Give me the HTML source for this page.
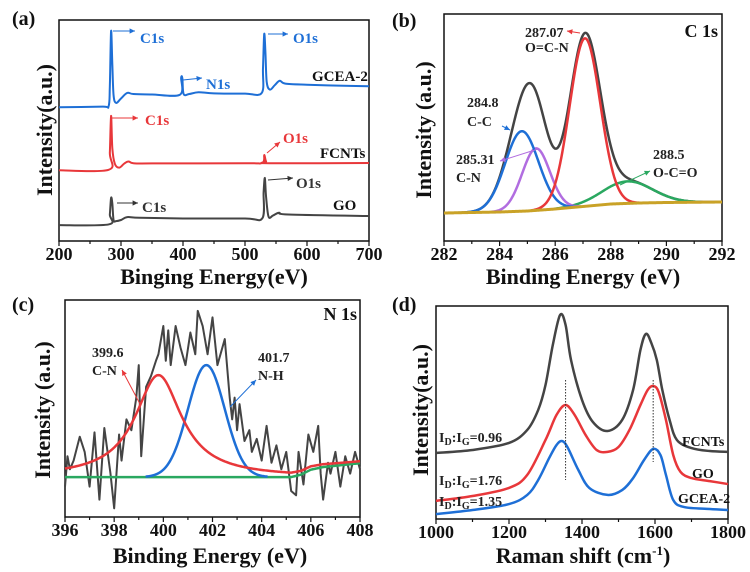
<!DOCTYPE html>
<html><head><meta charset="utf-8"><style>
html,body{margin:0;padding:0;background:#fff}
svg{display:block}
text{font-family:"Liberation Serif",serif;font-weight:bold}
</style></head><body>
<svg id="fig" width="750" height="572" viewBox="0 0 750 572" xmlns="http://www.w3.org/2000/svg"></svg>
<script>
// ---------- Panel (a) survey data ----------
const aGcX=[200,270,280,282,284,286,288,292,300,310,320,350,395,397,399,401,410,425,450,500,527,529,531,533,535,540,548,556,565,600,650,700];
const aGcY=[60.5,60.8,61,70,95,80,66,62.5,64.5,67,66.5,66.3,66.2,73.8,73.5,66.5,66.5,67.3,66.8,66.7,67,78,93.7,85,72,68.5,70.5,72.5,71.2,70.7,70.3,70];
const aFcX=[200,280,282,284,286,290,297,305,312,320,350,500,528,531,534,540,700];
const aFcY=[32,32.2,40,56.6,42,35,33.2,35,36,35.2,35.1,35.2,35.4,38.9,36,35.2,35.3];
const aGoX=[200,280,282,284,286,288,292,300,310,330,400,500,528,530,532,534,538,545,555,570,700];
const aGoY=[7.2,7.5,12,19.5,17,9.5,9,9.5,10.8,10.5,10.2,10.2,10.3,22,28.5,20,11,11.5,12.8,12,11.3];
const aTicks=[200,300,400,500,600,700];
// ---------- Panel (b) C1s fit ----------
const bBgX=[282,284,285,286,287,288,289,290,292];
const bBgY=[28,29,30,32,34.5,37,38,38.5,39];
const bCenters=[284.8,285.31,287.07,288.6];
const bHeights=[80,62,168,22];
const bSigmas=[0.6,0.5,0.55,0.9];
const bTicks=[282,284,286,288,290,292];
// ---------- Panel (c) N1s ----------
const cX=[396.0,396.1,396.2,396.35,396.6,396.8,397.0,397.2,397.4,397.6,397.85,398.0,398.2,398.3,398.5,398.7,398.9,399.0,399.1,399.3,399.5,399.7,399.8,400.0,400.1,400.2,400.3,400.5,400.7,400.9,401.1,401.3,401.4,401.6,401.8,402.0,402.2,402.5,402.7,402.8,402.9,403.0,403.1,403.3,403.5,403.6,403.8,404.0,404.2,404.4,404.6,404.8,405.0,405.2,405.4,405.5,405.7,405.9,406.1,406.3,406.4,406.5,406.7,406.8,407.0,407.2,407.4,407.6,407.8,408.0];
const cY=[14,28,22,26,37,30,14,39,8,41,20,4,38,26,45,40,55,70,28,60,65,72,75,88,72,86,70,88,78,70,85,75,95,88,75,92,70,82,55,45,55,40,52,35,40,30,36,26,42,25,33,22,30,12,10,30,15,38,30,42,20,8,25,20,30,14,28,20,30,22];
const cBgX=[396,405.2,405.6,406,406.5,408];
const cBgY=[18.4,18.4,19.5,21.8,23,24.8];
const cRed=[399.8,47,1.15];
const cBlue=[401.75,51.6,0.75];
const cTicks=[396,398,400,402,404,406,408];
// ---------- Panel (d) Raman ----------
const dFcX=[1000,1100,1200,1250,1280,1300,1320,1340,1355,1370,1400,1430,1470,1510,1540,1560,1575,1590,1605,1620,1640,1660,1700,1750,1800];
const dFcY=[31,32.4,35.7,41.8,51.2,62.9,81.7,95.8,91.1,74.6,55.9,45.5,41.3,46.5,60.6,79.3,86.9,82.6,74.6,60.6,46.5,37.1,33.3,31.9,31.5];
const dGoX=[1000,1100,1200,1250,1300,1330,1355,1380,1410,1440,1470,1500,1530,1560,1580,1595,1610,1630,1650,1670,1700,1750,1800];
const dGoY=[8.5,10.8,14.6,20.7,37.1,48.8,53.5,48.8,39.4,32.4,31.5,33.8,41.8,53.5,60.6,62.4,59.6,46.5,30,22.1,19.2,17.8,16.4];
const dGcX=[1000,1100,1200,1250,1280,1310,1330,1345,1360,1390,1420,1470,1510,1540,1570,1595,1615,1630,1650,1680,1750,1800];
const dGcY=[2.3,4.2,7,11.3,18.3,28.6,34.7,36.6,33.8,23,14.6,11.3,13.6,19.2,27.7,32.9,30,20.7,8.9,5.6,4.7,4.2];
const dTicks=[1000,1200,1400,1600,1800];

const NS="http://www.w3.org/2000/svg";
const svg=document.getElementById('fig');
function mk(tag,attrs,parent){const e=document.createElementNS(NS,tag);for(const k in attrs)e.setAttribute(k,attrs[k]);(parent||svg).appendChild(e);return e;}
function txt(s,x,y,size,fill,anchor,parent,rot){const e=mk('text',{x:x,y:y,'font-size':size,fill:fill||'#111','text-anchor':anchor||'start'},parent);if(rot)e.setAttribute('transform','rotate(-90 '+x+' '+y+')');e.textContent=s;return e;}
function lin(d0,d1,r0,r1){return v=>r0+(v-d0)*(r1-r0)/(d1-d0);}
function smooth(pts){let d='M'+pts[0][0].toFixed(2)+','+pts[0][1].toFixed(2);for(let i=0;i<pts.length-1;i++){const p0=pts[Math.max(0,i-1)],p1=pts[i],p2=pts[i+1],p3=pts[Math.min(pts.length-1,i+2)];const c1=[p1[0]+(p2[0]-p0[0])/6,p1[1]+(p2[1]-p0[1])/6],c2=[p2[0]-(p3[0]-p1[0])/6,p2[1]-(p3[1]-p1[1])/6];d+='C'+c1[0].toFixed(2)+','+c1[1].toFixed(2)+' '+c2[0].toFixed(2)+','+c2[1].toFixed(2)+' '+p2[0].toFixed(2)+','+p2[1].toFixed(2);}return d;}
function polyD(pts){return 'M'+pts.map(p=>p[0].toFixed(2)+','+p[1].toFixed(2)).join('L');}
function interp(xs,ys,x){if(x<=xs[0])return ys[0];for(let i=0;i<xs.length-1;i++){if(x<=xs[i+1]){const t=(x-xs[i])/(xs[i+1]-xs[i]);return ys[i]+t*(ys[i+1]-ys[i]);}}return ys[ys.length-1];}
function axes(g,x0,x1,y0,y1,sx,ticks,minorStep,name){
  const fr=mk('rect',{x:x0,y:y0,width:x1-x0,height:y1-y0,fill:'none',stroke:'#111','stroke-width':1.5},g);
  
  
  const tg=mk('g',{},g);
  
  
  for(let v=ticks[0];v<=ticks[ticks.length-1]+1e-9;v+=minorStep){const x=sx(v);const major=ticks.some(t=>Math.abs(t-v)<1e-6);mk('line',{x1:x,x2:x,y1:y1,y2:y1+(major?5:3),stroke:'#111','stroke-width':1.2},tg);}
  ticks.forEach(t=>{const e=txt(String(t),sx(t),y1+19,18,'#111','middle',tg);});
}
function line(g,d,color,w,name){const p=mk('path',{d:d,fill:'none',stroke:color,'stroke-width':w,'stroke-linejoin':'round'},g);return p;}
function arrow(g,x1,y1,x2,y2,color){mk('line',{x1:x1,y1:y1,x2:x2,y2:y2,stroke:color,'stroke-width':1},g);const a=Math.atan2(y2-y1,x2-x1),L=6;mk('path',{d:`M${x2},${y2}L${x2-L*Math.cos(a-0.45)},${y2-L*Math.sin(a-0.45)}L${x2-L*Math.cos(a+0.45)},${y2-L*Math.sin(a+0.45)}Z`,fill:color},g);}

// ===== Panel a =====
(function(){
const g=mk('g',{});
const sx=lin(200,700,59,369), sy=lin(0,100,241,20);
axes(g,59,369,20,241,sx,aTicks,50,'panel-a');
line(g,smooth(aGoX.map((x,i)=>[sx(x),sy(aGoY[i])])),'#444',2,'go-survey-line');
line(g,smooth(aFcX.map((x,i)=>[sx(x),sy(aFcY[i])])),'#e8373a',2,'fcnts-survey-line');
line(g,smooth(aGcX.map((x,i)=>[sx(x),sy(aGcY[i])])),'#1e6fd6',2,'gcea2-survey-line');
txt('(a)',12,25,20,'#111','start',g);
txt('Binging Energy(eV)',214,284,22,'#111','middle',g);
txt('Intensity(a.u.)',52,130,22,'#111','middle',g,true);
const B='#1e6fd6',R='#e8373a',K='#333';
arrow(g,113,31,135,31,B);txt('C1s',140,43,15,B,'start',g);
arrow(g,268,34,288,34,B);txt('O1s',293,43,15,B,'start',g);
arrow(g,183,80,202,78,B);txt('N1s',206,89,15,B,'start',g);
txt('GCEA-2',312,81,15,'#111','start',g);
arrow(g,112,118,138,118,R);txt('C1s',145,125,15,R,'start',g);
arrow(g,267,153,280,142,R);txt('O1s',283,143,15,R,'start',g);
txt('FCNTs',320,158,15,'#111','start',g);
arrow(g,117,203,138,203,K);txt('C1s',142,212,15,K,'start',g);
arrow(g,268,180,293,178,K);txt('O1s',296,188,15,K,'start',g);
txt('GO',333,210,15,'#111','start',g);
})();

// ===== Panel b =====
(function(){
const g=mk('g',{});
const sx=lin(282,292,444,722), sy=lin(0,227,241,14);
axes(g,444,722,14,241,sx,bTicks,1,'panel-b');
const xs=[];for(let i=0;i<=400;i++)xs.push(282+i*10/400);
const bg=x=>interp(bBgX,bBgY,x);
const gau=(k,x)=>bHeights[k]*Math.exp(-((x-bCenters[k])**2)/(2*bSigmas[k]**2));
const colors=['#1e6fd6','#b16de0','#e8373a','#2aa860'];
const names=['cc-fit-peak','cn-fit-peak','ocn-fit-peak','oco-fit-peak'];
line(g,polyD(xs.map(x=>[sx(x),sy(bHeights.reduce((s,_,k)=>s+gau(k,x),0)+bg(x))])),'#444',2.5,'c1s-envelope');
[3,1,0,2].forEach(k=>{const pts=xs.filter(x=>gau(k,x)>0.3).map(x=>[sx(x),sy(gau(k,x)+bg(x))]);line(g,polyD(pts),colors[k],2.5,names[k]);});
line(g,polyD(xs.map(x=>[sx(x),sy(bg(x))])),'#c9a227',3,'c1s-background');
txt('(b)',392,27,20,'#111','start',g);
txt('C 1s',718,37,18,'#111','end',g);
txt('Binding Energy (eV)',583,284,22,'#111','middle',g);
txt('Intensity (a.u.)',431,130,22,'#111','middle',g,true);
txt('287.07',525,37,14,'#222','start',g);txt('O=C-N',525,52,14,'#222','start',g);
arrow(g,580,33,567,31,'#e8373a');
txt('284.8',467,107,14,'#222','start',g);txt('C-C',467,126,14,'#222','start',g);
arrow(g,502,126,510,130,'#1e6fd6');
txt('285.31',456,164,14,'#222','start',g);txt('C-N',456,182,14,'#222','start',g);
arrow(g,538,149,500,161,'#b16de0');
txt('288.5',653,159,14,'#222','start',g);txt('O-C=O',653,177,14,'#222','start',g);
arrow(g,620,185,650,171,'#2aa860');
})();

// ===== Panel c =====
(function(){
const g=mk('g',{});
const sx=lin(396,408,65,360), sy=lin(0,100,517,300);
axes(g,65,360,300,517,sx,cTicks,1,'panel-c');
line(g,polyD(cX.map((x,i)=>[sx(x),sy(cY[i])])),'#444',2,'n1s-raw-data');
const xs=[];for(let i=0;i<=300;i++)xs.push(396+i*12/300);
const bg=x=>interp(cBgX,cBgY,x);
line(g,polyD(xs.map(x=>[sx(x),sy(bg(x))])),'#2aa860',2.5,'n1s-background');
const blue=x=>cBlue[1]*Math.exp(-((x-cBlue[0])**2)/(2*cBlue[2]**2));
line(g,polyD(xs.filter(x=>blue(x)>0.2).map(x=>[sx(x),sy(blue(x)+bg(x))])),'#1e6fd6',2.5,'nh-fit-peak');
const red=x=>cRed[1]/(1+((x-cRed[0])/cRed[2])**2);
line(g,polyD(xs.map(x=>[sx(x),sy(red(x)+bg(x))])),'#e8373a',2.5,'cn-fit-peak');
txt('(c)',12,311,20,'#111','start',g);
txt('N 1s',357,320,18,'#111','end',g);
txt('Binding Energy (eV)',210,563,22,'#111','middle',g);
txt('Intensity (a.u.)',50,410,22,'#111','middle',g,true);
txt('399.6',92,357,14,'#222','start',g);txt('C-N',92,375,14,'#222','start',g);
arrow(g,140,404,122,370,'#e8373a');
txt('401.7',258,362,14,'#222','start',g);txt('N-H',258,380,14,'#222','start',g);
arrow(g,230,407,256,380,'#1e6fd6');
})();

// ===== Panel d =====
(function(){
const g=mk('g',{});
const sx=lin(1000,1800,436,728), sy=lin(0,100,519,306);
axes(g,436,728,306,519,sx,dTicks,100,'panel-d');
line(g,smooth(dFcX.map((x,i)=>[sx(x),sy(dFcY[i])])),'#444',2.5,'fcnts-raman-line');
line(g,smooth(dGoX.map((x,i)=>[sx(x),sy(dGoY[i])])),'#e8373a',2.5,'go-raman-line');
line(g,smooth(dGcX.map((x,i)=>[sx(x),sy(dGcY[i])])),'#1e6fd6',2.5,'gcea2-raman-line');
mk('line',{x1:sx(1355),x2:sx(1355),y1:380,y2:480,stroke:'#333','stroke-width':1,'stroke-dasharray':'1.5,1.5'},g);
mk('line',{x1:sx(1595),x2:sx(1595),y1:380,y2:462,stroke:'#333','stroke-width':1,'stroke-dasharray':'1.5,1.5'},g);
txt('(d)',392,311,20,'#111','start',g);
const xt=txt('',583,563,22,'#111','middle',g);
xt.innerHTML='Raman shift (cm<tspan font-size="13" dy="-8">-1</tspan><tspan dy="8">)</tspan>';
txt('Intensity(a.u.)',428,410,22,'#111','middle',g,true);
const ratio=(y,v)=>{const t=txt('',439,y,14,'#222','start',g);t.innerHTML='I<tspan font-size="10" dy="3">D</tspan><tspan dy="-3">:I</tspan><tspan font-size="10" dy="3">G</tspan><tspan dy="-3">='+v+'</tspan>';};
ratio(442,'0.96');ratio(485,'1.76');ratio(506,'1.35');
txt('FCNTs',682,446,14,'#111','start',g);
txt('GO',692,478,14,'#111','start',g);
txt('GCEA-2',678,503,14,'#111','start',g);
})();
</script>
</body></html>
